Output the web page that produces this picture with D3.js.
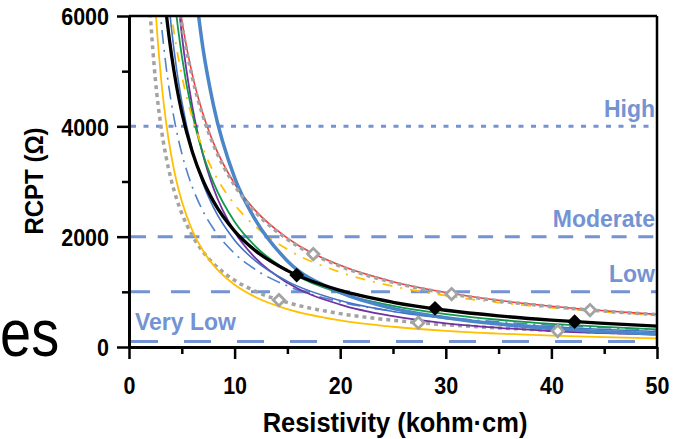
<!DOCTYPE html>
<html>
<head>
<meta charset="utf-8">
<script src="https://cdn.jsdelivr.net/npm/d3@7"></script>
<style>
  body { margin: 0; background: #fff; }
  svg { display: block; font-family: "Liberation Sans", Arial, sans-serif; }
</style>
</head>
<body>
<svg width="681" height="439"></svg>
<script>
// values, shared x grid (kohm*cm), null = off the top
const xs          = [2,    2.5,  3,    3.5,  4,    4.5,  5,    6,    7,    8,    10,   12,   15,   20,   25,   30,  35,  40,  45,  50];
const grayLow     = [6050, 4840, 4033, 3457, 3025, 2689, 2420, 2017, 1729, 1513, 1210, 1008, 807,  605,  484,  403, 346, 303, 269, 242];
const yellowSolid = [8121, 6177, 4940, 4089, 3472, 3005, 2641, 2112, 1748, 1484, 1129, 903,  687,  483,  367,  293, 243, 206, 178, 157];
const blueDashDot = [null, 7265, 6000, 5103, 4436, 3920, 3509, 2898, 2465, 2143, 1695, 1400, 1107, 818,  648,  535, 455, 395, 349, 313];
const blackLine   = [null, null, 7122, 6097, 5329, 4731, 4253, 3535, 3023, 2639, 2101, 1742, 1384, 1025, 810,  666, 564, 487, 427, 379];
const blueThin    = [null, null, null, 6822, 5812, 5045, 4448, 3573, 2969, 2530, 1935, 1555, 1189, 842,  644,  518, 430, 367, 318, 281];
const greenLine   = [null, null, null, null, 6926, 6001, 5279, 4229, 3505, 2979, 2271, 1819, 1386, 977,  745,  596, 494, 420, 364, 320];
const purpleLine  = [null, null, null, null, null, 6590, 5663, 4355, 3488, 2878, 2087, 1605, 1164, 769,  558,  429, 348, 290, 252, 225];
const yellowDash  = [null, null, null, 6857, 6056, 5428, 4921, 4153, 3599, 3178, 2583, 2180, 1771, 1356, 1102, 930, 806, 712, 638, 578];
const redLine     = [null, null, null, null, 7400, 6578, 5920, 4933, 4229, 3700, 2960, 2467, 1973, 1480, 1184, 987, 846, 740, 658, 592];
const grayHigh    = [null, null, null, null, 7325, 6511, 5860, 4883, 4186, 3663, 2930, 2442, 1953, 1465, 1172, 977, 837, 733, 651, 586];
const blueThick   = [null, null, null, null, null, null, null, 6936, 5422, 4381, 3069, 2294, 1560, 990,  700,  532, 416, 336, 278, 235];

// measured points
const blackPtsX    = [15.88, 28.98, 42.2];
const blackPtsY    = [1304, 701, 459];
const grayHighPtsX = [17.45, 30.55, 43.66];
const grayHighPtsY = [1685, 960, 670];
const grayLowPtsX  = [14.2, 27.4, 40.6];
const grayLowPtsY  = [851, 440, 290];

// corrosion risk thresholds
const levelValues = [4000, 2000, 1000, 100];
const levelNames  = ["High", "Moderate", "Low", "Very Low"];

const xTicks = [0, 10, 20, 30, 40, 50];
const xMinor = [5, 15, 25, 35, 45];
const yTicks = [0, 2000, 4000, 6000];
const yMinor = [1000, 3000, 5000];

(function() {
    const svg = d3.select("svg");
    const left = 129, right = 657, top = 16, bottom = 347;
    const levelColor = "#7393d2";

    const x = d3.scaleLinear().domain([0, 50]).range([left, right]);
    const y = d3.scaleLinear().domain([0, 6000]).range([bottom, top]);

    function addText(px, py, str, size, anchor, sy, rot, color, weight) {
        return svg.append("text")
            .attr("transform", "translate(" + px + "," + py + ")" + (rot ? " rotate(" + rot + ")" : "") + " scale(1," + sy + ")")
            .attr("text-anchor", anchor)
            .attr("font-size", size)
            .attr("font-weight", weight || "bold")
            .attr("fill", color || "#000")
            .text(str);
    }

    // stray slide text on the left
    addText(0, 356, "es", 56, "start", 1.2, 0, "#000", "normal");

    svg.append("clipPath").attr("id", "plot")
        .append("rect").attr("x", left).attr("y", top)
        .attr("width", right - left).attr("height", bottom - top);

    // threshold lines
    const dashes = ["5,7.5", "15,11.7", "19,21", "27,26"];
    svg.append("g").selectAll("line").data(levelValues).join("line")
        .attr("x1", left + 2).attr("x2", right)
        .attr("y1", d => y(d)).attr("y2", d => y(d))
        .attr("stroke", levelColor)
        .attr("stroke-width", 3)
        .attr("stroke-dasharray", (d, i) => dashes[i]);

    const series = [
        { v: grayLow,     color: "#a3a3a3", w: 3.5, dash: "4,4" },
        { v: yellowSolid, color: "#ffc000", w: 1.8 },
        { v: blueDashDot, color: "#4f82c8", w: 1.6, dash: "14,6,2,6" },
        { v: purpleLine,  color: "#7030a0", w: 1.8 },
        { v: blueThin,    color: "#4472c4", w: 1.6 },
        { v: greenLine,   color: "#11994a", w: 1.8 },
        { v: yellowDash,  color: "#ffc000", w: 1.8, dash: "10,8,2,8" },
        { v: redLine,     color: "#f43c3c", w: 1.6 },
        { v: blueThick,   color: "#4a86c8", w: 3.5 },
        { v: grayHigh,    color: "#a3a3a3", w: 3.5, dash: "4,4" },
        { v: blackLine,   color: "#000000", w: 3.3 }
    ];

    const line = d3.line()
        .defined(d => d[1] != null)
        .x(d => x(d[0]))
        .y(d => y(d[1]))
        .curve(d3.curveMonotoneX);

    const curves = svg.append("g").attr("clip-path", "url(#plot)");
    series.forEach(s => {
        curves.append("path")
            .attr("d", line(xs.map((d, i) => [d, s.v[i]])))
            .attr("fill", "none")
            .attr("stroke", s.color)
            .attr("stroke-width", s.w)
            .attr("stroke-dasharray", s.dash || null);
    });

    // diamonds
    const diamond = d3.symbol().type(d3.symbolSquare);
    function markers(px, py, size, fill, stroke) {
        svg.append("g").selectAll("path").data(px).join("path")
            .attr("transform", (d, i) => "translate(" + x(d) + "," + y(py[i]) + ") rotate(45)")
            .attr("d", diamond.size(size)())
            .attr("fill", fill)
            .attr("stroke", stroke)
            .attr("stroke-width", stroke === "none" ? 0 : 2.8);
    }
    markers(grayLowPtsX, grayLowPtsY, 64, "#fff", "#a3a3a3");
    markers(grayHighPtsX, grayHighPtsY, 64, "#fff", "#a3a3a3");
    markers(blackPtsX, blackPtsY, 110, "#000", "none");

    // frame
    svg.append("line").attr("x1", left).attr("x2", right).attr("y1", top).attr("y2", top)
        .attr("stroke", "#000").attr("stroke-width", 2.5);
    svg.append("line").attr("x1", right).attr("x2", right).attr("y1", top).attr("y2", bottom)
        .attr("stroke", "#000").attr("stroke-width", 2.5);

    // axes
    const yAxis = d3.axisLeft(y).tickValues(yTicks).tickSize(12).tickSizeOuter(0).tickPadding(8).tickFormat(d3.format("d"));
    const yAxisMinor = d3.axisLeft(y).tickValues(yMinor).tickSize(7).tickSizeOuter(0).tickFormat("");
    const xAxis = d3.axisBottom(x).tickValues(xTicks).tickSize(12).tickSizeOuter(0).tickFormat(d3.format("d"));
    const xAxisMinor = d3.axisBottom(x).tickValues(xMinor).tickSize(7).tickSizeOuter(0).tickFormat("");

    const gyMinor = svg.append("g").attr("transform", "translate(" + left + ",0)").call(yAxisMinor);
    const gxMinor = svg.append("g").attr("transform", "translate(0," + bottom + ")").call(xAxisMinor);
    const gy = svg.append("g").attr("transform", "translate(" + left + ",0)").call(yAxis);
    const gx = svg.append("g").attr("transform", "translate(0," + bottom + ")").call(xAxis);

    [gy, gx, gyMinor, gxMinor].forEach(g => {
        g.attr("font-family", null).attr("font-size", 21.5).attr("font-weight", "bold");
        g.select(".domain").attr("stroke-width", 3);
        g.selectAll(".tick line").attr("stroke-width", 2.5);
    });
    gy.selectAll(".tick text").attr("dy", null).attr("y", 0)
        .attr("transform", "translate(0,8.8) scale(1,1.15)");
    gx.selectAll(".tick text").attr("dy", null).attr("y", 0)
        .attr("transform", "translate(0,47) scale(1,1.15)");

    // titles
    addText(395, 432, "Resistivity (kohm\u00b7cm)", 25.5, "middle", 1.08);
    addText(43, 181, "RCPT (\u03a9)", 24, "middle", 1.1, -90);

    // threshold labels
    levelNames.forEach((name, i) => {
        const last = i === levelNames.length - 1;
        addText(last ? left + 6 : right - 2, y(levelValues[i]) - (last ? 11.5 : 9.5), name, 23, last ? "start" : "end", 1, 0, levelColor);
    });
})();
</script>
</body>
</html>
